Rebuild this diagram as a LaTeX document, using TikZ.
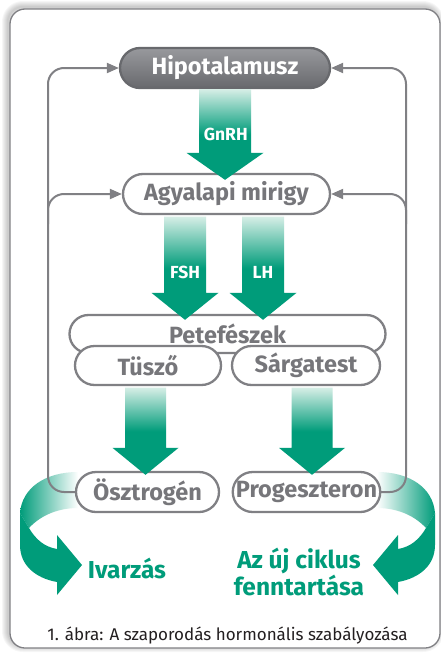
\documentclass[tikz,border=0pt]{standalone}
\usepackage{fontspec}
\setmainfont{Fira Sans}
\usepackage{xcolor}
\usepackage{tikz}
\usetikzlibrary{arrows.meta,shapes.misc,calc}

\definecolor{hgray}{RGB}{128,128,132}
\definecolor{htext}{RGB}{118,118,122}
\definecolor{hdark}{RGB}{104,105,109}
\definecolor{hlight}{RGB}{152,153,157}
\definecolor{zold}{RGB}{0,156,122}
\definecolor{halvany}{RGB}{214,238,230}
\definecolor{felirat}{RGB}{35,31,32}

% big hormone arrow: start, tip, half shaft width (pt)
\newcommand{\hormon}[3]{%
  \shade[nyil] let \p1=(#1), \p2=(#2) in
    (\x1-#3pt,\y1) -- (\x1+#3pt,\y1) -- (\x1+#3pt,\y2+27pt)
    -- (\x1+#3pt+12.5pt,\y2+27pt) -- (\x1,\y2)
    -- (\x1-#3pt-12.5pt,\y2+27pt) -- (\x1-#3pt,\y2+27pt) -- cycle;}

\begin{document}
\begin{tikzpicture}[x=1pt,y=-1pt,line cap=round,line join=round,>={Triangle[length=12pt,width=10pt]},
    box/.style={rounded rectangle,draw=hgray,line width=2.3pt,fill=white,text=htext,
      font=\fontsize{23.5}{26}\selectfont\bfseries,inner sep=0pt,minimum height=40pt},
    visszacsat/.style={draw=hgray,line width=2pt,rounded corners=16pt,->},
    nyil/.style={top color=halvany,bottom color=zold,middle color=zold},
    hlabel/.style={text=white,font=\fontsize{17.5}{20}\selectfont\bfseries},
    gtext/.style={text=zold,font=\fontsize{24.5}{27}\selectfont\bfseries,align=center},
    keret/.style={draw=hgray,line width=1.3pt,fill=white,rounded corners=15pt}]
  \useasboundingbox (0,0) rectangle (441,653);
  % frame with soft shadow
  \foreach \s in {2,4,...,12}
    \draw[black,opacity=0.035,line width=\s pt,rounded corners=15pt] (8,7) rectangle (438,646);
  \draw[keret] (10,9) rectangle (440,648);

  % curved ribbons
  \shade[left color=zold,right color=white] (78,472) .. controls (45,472) and (22,488) .. (20,513)
    -- (29,528) .. controls (42,514) and (60,508) .. (78,508) -- cycle;
  \fill[zold] (20,513) -- (29,528) .. controls (36,540) and (45,547) .. (57,549) -- (57,535)
    -- (82,565) -- (57,595) -- (57,582) .. controls (35,578) and (20,565) .. (20,545) -- cycle;
  \shade[left color=white,right color=zold] (377,472) .. controls (410,472) and (433,488) .. (435,513)
    -- (426,528) .. controls (413,514) and (395,508) .. (377,508) -- cycle;
  \fill[zold] (435,513) -- (426,528) .. controls (419,540) and (410,547) .. (398,549) -- (398,535)
    -- (373,565) -- (398,595) -- (398,582) .. controls (420,578) and (435,565) .. (435,545) -- cycle;

  % nodes
  \node[box,minimum width=210pt,draw=hdark,top color=hlight,bottom color=hdark,text=white] (hypo) at (225,68) {Hipotalamusz};
  \node[box,minimum width=207pt] (agy) at (226.5,194) {Agyalapi mirigy};
  \node[box,minimum width=316pt,minimum height=38pt] (pete) at (227.5,334) {Petefészek};
  \node[box,minimum width=146pt,minimum height=39pt] (tusz) at (148,365.5) {Tüsző};
  \node[box,minimum width=148pt,minimum height=39pt] (sarga) at (306,365.5) {Sárgatest};
  \node[box,minimum width=143pt] (osz) at (147.5,492) {Ösztrogén};
  \node[box,minimum width=147pt] (prog) at (306.5,492) {Progeszteron};

  % feedback loops
  \coordinate (bal) at (48,0);
  \coordinate (jobb) at (406,0);
  \draw[visszacsat] (osz.west) -| (bal |- hypo.west) -- (hypo.west);
  \draw[visszacsat] ([yshift=-30pt]bal |- agy.west) |- (agy.west);
  \draw[visszacsat] (prog.east) -| (jobb |- hypo.east) -- (hypo.east);
  \draw[visszacsat] ([yshift=-30pt]jobb |- agy.east) |- (agy.east);

  % hormone arrows
  \coordinate (gnrh-a) at (hypo.south);
  \coordinate (gnrh-b) at ([yshift=-7pt]agy.north);
  \coordinate (fsh-a) at ([xshift=-41.5pt,yshift=-1.5pt]agy.south);
  \coordinate (fsh-b) at ([yshift=-6pt]fsh-a |- pete.north);
  \coordinate (lh-a) at ([xshift=36.5pt,yshift=-1.5pt]agy.south);
  \coordinate (lh-b) at ([yshift=-6pt]lh-a |- pete.north);
  \coordinate (tusz-a) at ([xshift=-2.5pt,yshift=-1.5pt]tusz.south);
  \coordinate (tusz-b) at ([yshift=-4pt]tusz-a |- osz.north);
  \coordinate (sarga-a) at ([xshift=6pt,yshift=-1.5pt]sarga.south);
  \coordinate (sarga-b) at ([yshift=-4pt]sarga-a |- prog.north);
  \hormon{gnrh-a}{gnrh-b}{26}
  \hormon{fsh-a}{fsh-b}{21}
  \hormon{lh-a}{lh-b}{21}
  \hormon{tusz-a}{tusz-b}{20.5}
  \hormon{sarga-a}{sarga-b}{20.5}
  \node[hlabel] (gnrh) at ($(gnrh-a)!0.5!(gnrh-b)$) {GnRH};
  \node[hlabel] (fsh) at ($(fsh-a)!0.54!(fsh-b)$) {FSH};
  \node[hlabel] (lh) at ($(lh-a)!0.54!(lh-b)$) {LH};

  % effects
  \node[gtext] (ivar) at (127,568) {Ivarzás};
  \node[gtext] (ciklus) at (299,571.5) {Az új ciklus\\fenntartása};
  \node[text=felirat,font=\fontsize{17}{20}\selectfont] (abra) at (227.5,635) {1. ábra: A szaporodás hormonális szabályozása};
\end{tikzpicture}
\end{document}
